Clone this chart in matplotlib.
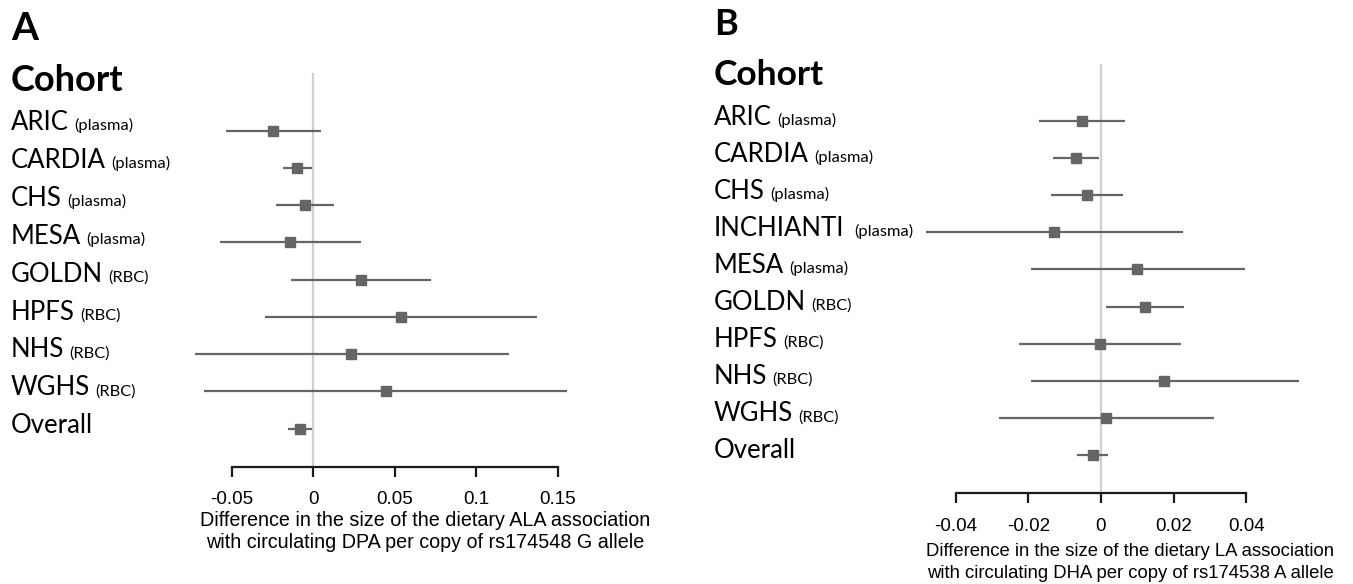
import matplotlib
matplotlib.use("Agg")
import matplotlib.pyplot as plt

# ---------------- data ----------------
cohorts_a = ["ARIC", "CARDIA", "CHS", "MESA", "GOLDN", "HPFS", "NHS", "WGHS", "Overall"]
sample_a = ["(plasma)", "(plasma)", "(plasma)", "(plasma)", "(RBC)", "(RBC)", "(RBC)", "(RBC)", ""]
est_a = [-0.0247, -0.0100, -0.0051, -0.0141, 0.0291, 0.0536, 0.0233, 0.0444, -0.0084]
lo_a = [-0.0537, -0.0188, -0.0229, -0.0572, -0.0135, -0.0294, -0.0728, -0.0671, -0.0153]
hi_a = [0.0047, -0.0010, 0.0129, 0.0294, 0.0722, 0.1372, 0.1202, 0.1558, -0.0008]
ticks_a = [-0.05, 0, 0.05, 0.1, 0.15]
ticklabels_a = ["-0.05", "0", "0.05", "0.1", "0.15"]
xlabel_a = ["Difference in the size of the dietary ALA association",
            "with circulating DPA per copy of rs174548 G allele"]

cohorts_b = ["ARIC", "CARDIA", "CHS", "INCHIANTI", "MESA", "GOLDN", "HPFS", "NHS", "WGHS", "Overall"]
sample_b = ["(plasma)", "(plasma)", "(plasma)", "(plasma)", "(plasma)", "(RBC)", "(RBC)", "(RBC)", "(RBC)", ""]
est_b = [-0.0052, -0.0070, -0.0039, -0.0129, 0.0100, 0.0120, -0.0004, 0.0174, 0.0015, -0.0023]
lo_b = [-0.0170, -0.0133, -0.0138, -0.0482, -0.0194, 0.0015, -0.0225, -0.0194, -0.0282, -0.0065]
hi_b = [0.0067, -0.0006, 0.0061, 0.0226, 0.0396, 0.0228, 0.0220, 0.0544, 0.0312, 0.0020]
ticks_b = [-0.04, -0.02, 0, 0.02, 0.04]
ticklabels_b = ["-0.04", "-0.02", "0", "0.02", "0.04"]
xlabel_b = ["Difference in the size of the dietary LA association",
            "with circulating DHA per copy of rs174538 A allele"]

# ---------------- figure ----------------
W, H = 1353, 584
fig = plt.figure(figsize=(W / 100, H / 100), dpi=100)
fig.patch.set_facecolor("white")

LABEL_FONT = ["Lato", "DejaVu Sans"]
AXIS_FONT = ["Liberation Sans", "DejaVu Sans"]
MARK = "#656565"


def fx(px):
    return px / W


def fy(py):
    return 1 - py / H


def panel(cfg):
    cohorts, samples, est, lo, hi = cfg["data"]
    n = len(cohorts)
    L, R, T, B = cfg["box"]
    ax = fig.add_axes([fx(L), fy(B), (R - L) / W, (B - T) / H])
    x0_px, ppu = cfg["xmap"]
    ax.set_xlim((L - x0_px) / ppu, (R - x0_px) / ppu)
    r0, rstep = cfg["rows"]
    ybot = (B - r0) / rstep
    ytop = (T - r0) / rstep
    ax.set_ylim(ybot, ytop)
    ax.set_facecolor("none")
    for s in ["top", "left", "right"]:
        ax.spines[s].set_visible(False)
    ax.spines["bottom"].set_bounds(cfg["ticks"][0], cfg["ticks"][-1])
    ax.spines["bottom"].set_linewidth(1.6)
    ax.spines["bottom"].set_color("#1a1a1a")
    ax.set_yticks([])
    ax.set_xticks(cfg["ticks"])
    ax.set_xticklabels(cfg["ticklabels"], fontfamily=AXIS_FONT, fontsize=13.6)
    ax.tick_params(axis="x", direction="out", length=7.5, width=1.6,
                   color="#1a1a1a", pad=cfg["pad"], labelcolor="black")
    zt = (cfg["zero_top"] - r0) / rstep
    ax.vlines(0, zt, ybot, color="#cfcfcf", lw=1.6, zorder=1)
    ys = list(range(n))
    ax.hlines(ys, lo, hi, color=MARK, lw=1.6, zorder=2)
    ax.plot(est, ys, ls="none", marker="s", ms=6.5, color=MARK, zorder=3)

    tx = cfg["text_x"]
    fig.text(fx(tx), fy(cfg["letter_y"]), cfg["letter"], fontfamily=LABEL_FONT,
             fontweight="bold", fontsize=cfg["letter_size"], va="baseline", ha="left")
    fig.text(fx(tx), fy(cfg["cohort_y"]), "Cohort", fontfamily=LABEL_FONT,
             fontweight="bold", fontsize=cfg["cohort_size"], va="baseline", ha="left")
    t0, tstep = cfg["text_rows"]
    renderer = fig.canvas.get_renderer()
    for i, (c, s) in enumerate(zip(cohorts, samples)):
        by = t0 + tstep * i
        t = fig.text(fx(tx), fy(by), c, fontfamily=LABEL_FONT, fontsize=18.5,
                     va="baseline", ha="left", color="black")
        if s:
            bb = t.get_window_extent(renderer)
            gap = cfg["gaps"].get(c, 5)
            fig.text((bb.x1 + gap) / W, fy(by), s, fontfamily=LABEL_FONT,
                     fontsize=11.8, va="baseline", ha="left", color="black")
    for k, line in enumerate(cfg["xlabel"]):
        fig.text(fx(cfg["xlabel_x"]), fy(cfg["xlabel_y"][k]), line,
                 fontfamily=AXIS_FONT, fontsize=cfg["xlabel_size"], ha="center", va="center")


panel(dict(
    data=(cohorts_a, sample_a, est_a, lo_a, hi_a),
    box=(180, 600, 60, 467),
    xmap=(313.3, 1630.0),
    rows=(130.7, 37.25),
    zero_top=73, pad=10,
    ticks=ticks_a, ticklabels=ticklabels_a,
    text_x=11, letter="A", letter_y=40, letter_size=28, cohort_y=90.7, cohort_size=26,
    text_rows=(130, 37.9), gaps={},
    xlabel=xlabel_a, xlabel_x=425, xlabel_y=(520, 542), xlabel_size=14.2,
))

panel(dict(
    data=(cohorts_b, sample_b, est_b, lo_b, hi_b),
    box=(900, 1340, 50, 492.7),
    xmap=(1101.0, 3633.0),
    rows=(120.7, 37.2),
    zero_top=64, pad=11,
    ticks=ticks_b, ticklabels=ticklabels_b,
    text_x=714, letter="B", letter_y=35, letter_size=26, cohort_y=85, cohort_size=25.5,
    text_rows=(125, 37.03), gaps={"INCHIANTI": 10},
    xlabel=xlabel_b, xlabel_x=1130, xlabel_y=(551, 573), xlabel_size=13.35,
))

fig.savefig("out.png", dpi=100, facecolor="white")
